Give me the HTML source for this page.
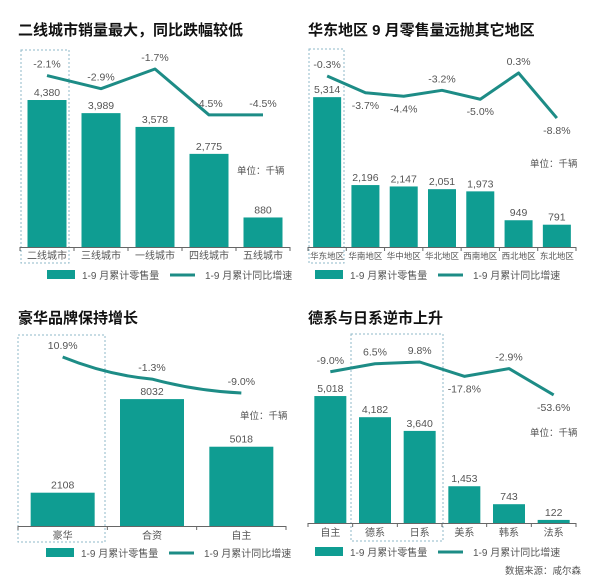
<!DOCTYPE html>
<html><head><meta charset="utf-8"><style>
html,body{margin:0;padding:0;background:#fff;}
svg{display:block;font-family:"Liberation Sans","Noto Sans CJK SC",sans-serif;}
</style></head><body>
<svg id="c" width="600" height="578" viewBox="0 0 600 578" xmlns="http://www.w3.org/2000/svg"></svg>
<script>
// Panel 1
const cats1 = ["二线城市","三线城市","一线城市","四线城市","五线城市"];
const sales1 = [4380,3989,3578,2775,880];
const salesLabels1 = ["4,380","3,989","3,578","2,775","880"];
const growth1 = [-2.1,-2.9,-1.7,-4.5,-4.5];
const growthLabels1 = ["-2.1%","-2.9%","-1.7%","-4.5%","-4.5%"];
// Panel 2
const cats2 = ["华东地区","华南地区","华中地区","华北地区","西南地区","西北地区","东北地区"];
const sales2 = [5314,2196,2147,2051,1973,949,791];
const salesLabels2 = ["5,314","2,196","2,147","2,051","1,973","949","791"];
const growth2 = [-0.3,-3.7,-4.4,-3.2,-5.0,0.3,-8.8];
const growthLabels2 = ["-0.3%","-3.7%","-4.4%","-3.2%","-5.0%","0.3%","-8.8%"];
// Panel 3
const cats3 = ["豪华","合资","自主"];
const sales3 = [2108,8032,5018];
const salesLabels3 = ["2108","8032","5018"];
const growth3 = [10.9,-1.3,-9.0];
const growthLabels3 = ["10.9%","-1.3%","-9.0%"];
// Panel 4
const cats4 = ["自主","德系","日系","美系","韩系","法系"];
const sales4 = [5018,4182,3640,1453,743,122];
const salesLabels4 = ["5,018","4,182","3,640","1,453","743","122"];
const growth4 = [-9.0,6.5,9.8,-17.8,-2.9,-53.6];
const growthLabels4 = ["-9.0%","6.5%","9.8%","-17.8%","-2.9%","-53.6%"];

const NS="http://www.w3.org/2000/svg";
const svg=document.getElementById('c');
const BAR="#0f9d92", LINE="#1d8c86", TXT="#555";
function mk(tag,attrs,parent){const e=document.createElementNS(NS,tag);for(const k in attrs)e.setAttribute(k,attrs[k]);(parent||svg).appendChild(e);return e;}

const panels=[
 {id:1,title:"二线城市销量最大，同比跌幅较低",tx:18,ty:35,cats:cats1,sales:sales1,sl:salesLabels1,growth:growth1,gl:growthLabels1,
  x0:20,x1:290,base:247,bw:39,yScale:0.03356,gRef:-1.7,gRefY:69,gSlope:16.4,below:[0,0,0,0,0],
  box:[21,50,48,213],catY:259,legY:275,unit:[237,174],curve:false,catFs:10},
 {id:2,title:"华东地区 9 月零售量远抛其它地区",tx:308,ty:35,cats:cats2,sales:sales2,sl:salesLabels2,growth:growth2,gl:growthLabels2,
  x0:308,x1:576,base:247,bw:28,yScale:0.0282,gRef:0.3,gRefY:73,gSlope:4.95,below:[0,1,1,0,1,0,1],
  box:[309,49,35,214],catY:259,legY:275,unit:[530,167],curve:false,catFs:8.5},
 {id:3,title:"豪华品牌保持增长",tx:18,ty:323,cats:cats3,sales:sales3,sl:salesLabels3,growth:growth3,gl:growthLabels3,
  x0:18,x1:286,base:526,bw:64,yScale:0.0158,gRef:10.9,gRefY:357,gSlope:1.81,below:[0,0,0],
  box:[18,335,87,207],catY:539,legY:553,unit:[240,419],curve:true,catFs:10},
 {id:4,title:"德系与日系逆市上升",tx:308,ty:323,cats:cats4,sales:sales4,sl:salesLabels4,growth:growth4,gl:growthLabels4,
  x0:308,x1:576,base:523,bw:32,yScale:0.0253,gRef:9.8,gRefY:362,gSlope:0.52,below:[0,0,0,1,0,1],
  box:[351,334,92,207],catY:536,legY:552,unit:[530,436],curve:false,catFs:10}
];

panels.forEach(p=>{
  const g=mk('g',{});
  
  
  const t=mk('text',{x:p.tx,y:p.ty,'font-size':15,'font-weight':'bold',fill:'#111'},g);
  t.textContent=p.title;
  
  
  const n=p.cats.length, step=(p.x1-p.x0)/n;
  const xc=i=>p.x0+step*(i+0.5);
  const yBar=v=>p.base-v*p.yScale;
  const yLine=v=>p.gRefY+(p.gRef-v)*p.gSlope;
  const b=mk('rect',{x:p.box[0],y:p.box[1],width:p.box[2],height:p.box[3],fill:'none',stroke:'#8fb8c8','stroke-dasharray':'2,2','stroke-width':1},g);
  
  
  const ax=mk('line',{x1:p.x0,x2:p.x1,y1:p.base+0.5,y2:p.base+0.5,stroke:'#666','stroke-width':1},g);
  
  
  for(let i=0;i<=n;i++){
    const tk=mk('line',{x1:p.x0+step*i,x2:p.x0+step*i,y1:p.base,y2:p.base+4,stroke:'#666'},g);
    
    
  }
  p.sales.forEach((v,i)=>{
    const r=mk('rect',{x:xc(i)-p.bw/2,y:yBar(v),width:p.bw,height:v*p.yScale,fill:BAR},g);
    
    
    const l=mk('text',{x:xc(i),y:yBar(v)-4,'font-size':10.5,fill:TXT,'text-anchor':'middle'},g);
    l.textContent=p.sl[i];
    
    
    const c=mk('text',{x:xc(i),y:p.catY,'font-size':p.catFs,fill:TXT,'text-anchor':'middle'},g);
    c.textContent=p.cats[i];
    
    
  });
  const pts=p.growth.map((v,i)=>[xc(i),yLine(v)]);
  let d;
  if(p.curve){
    d='M'+pts[0][0]+','+pts[0][1];
    for(let i=1;i<pts.length;i++){
      const a=pts[i-1],c=pts[i],mx=(a[0]+c[0])/2;
      d+=' Q'+mx+','+(i===1?c[1]-4:c[1]-2)+' '+c[0]+','+c[1];
    }
  } else d='M'+pts.map(q=>q[0]+','+q[1]).join(' L');
  const ln=mk('path',{d:d,fill:'none',stroke:LINE,'stroke-width':3,'stroke-linejoin':'round'},g);
  
  
  p.growth.forEach((v,i)=>{
    const y=p.below[i]?yLine(v)+16:yLine(v)-8;
    const l=mk('text',{x:xc(i),y:y,'font-size':10.5,fill:TXT,'text-anchor':'middle'},g);
    l.textContent=p.gl[i];
    
    
  });
  const u=mk('text',{x:p.unit[0],y:p.unit[1],'font-size':9.5,fill:TXT},g);
  u.textContent='单位：千辆';
  
  
  const lx=p.x0+(p.id===1?27:(p.id===3?28:7));
  const lr=mk('rect',{x:lx,y:p.legY-5,width:28,height:9,fill:BAR},g);
  
  
  const lt=mk('text',{x:lx+35,y:p.legY+4,'font-size':10,fill:TXT},g);
  lt.textContent='1-9 月累计零售量';
  
  
  const ll=mk('line',{x1:lx+123,x2:lx+148,y1:p.legY,y2:p.legY,stroke:LINE,'stroke-width':3},g);
  
  
  const lt2=mk('text',{x:lx+158,y:p.legY+4,'font-size':10,fill:TXT},g);
  lt2.textContent='1-9 月累计同比增速';
  
  
});
const src=mk('text',{x:505,y:574,'font-size':9.5,fill:TXT});
src.textContent='数据来源：咸尔森';


</script>
</body></html>
